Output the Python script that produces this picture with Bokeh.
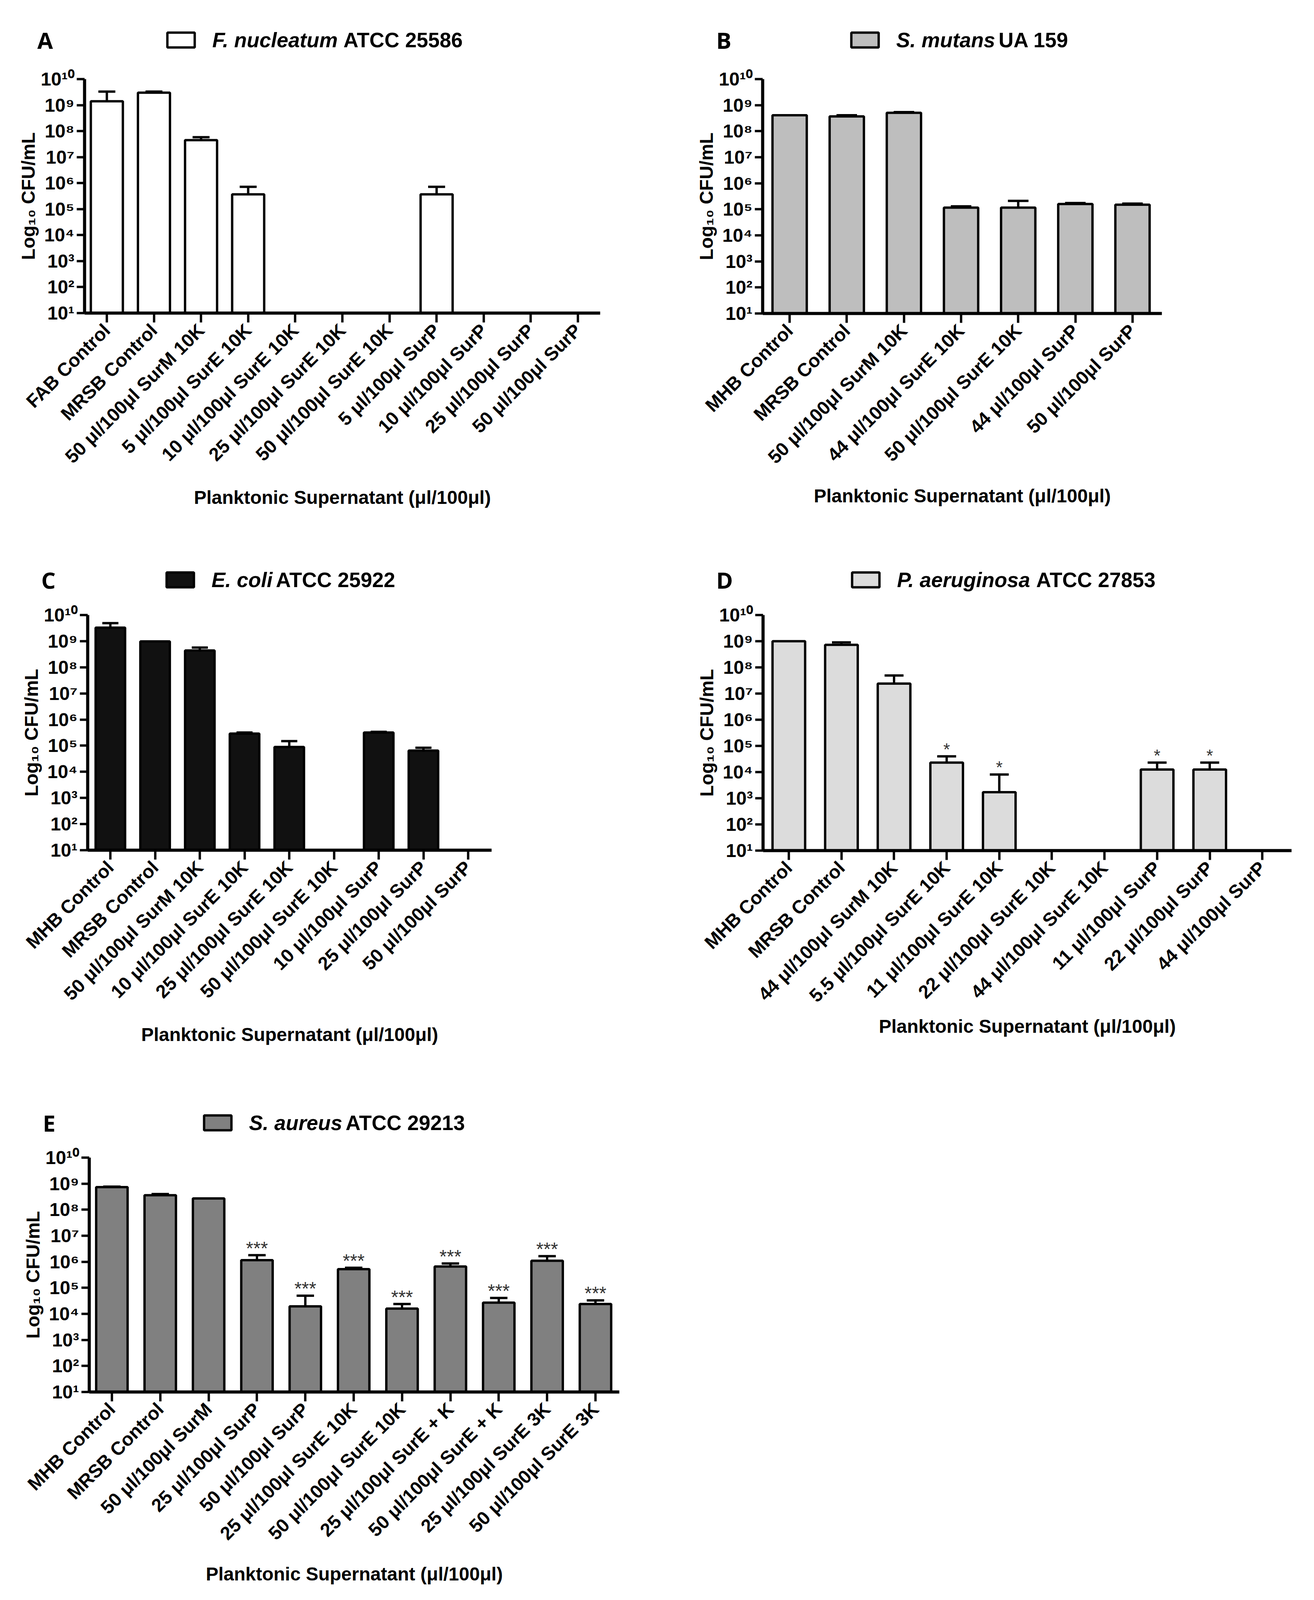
import math
from bokeh.plotting import figure
from bokeh.models import FixedTicker, Range1d
from bokeh.layouts import column, row
from bokeh.embed import file_html
from bokeh.resources import INLINE
from bokeh.core.properties import value

# ---------------- data ----------------
a_labels = ["FAB Control", "MRSB Control", "50 μl/100μl SurM 10K", "5 μl/100μl SurE 10K",
            "10 μl/100μl SurE 10K", "25 μl/100μl SurE 10K", "50 μl/100μl SurE 10K",
            "5 μl/100μl SurP", "10 μl/100μl SurP", "25 μl/100μl SurP", "50 μl/100μl SurP"]
a_mean = [1.4e9, 3.0e9, 4.5e7, 3.7e5, 0, 0, 0, 3.7e5, 0, 0, 0]
a_err = [3.3e9, 3.3e9, 5.8e7, 7.2e5, 0, 0, 0, 7.2e5, 0, 0, 0]
a_stars = [""] * 11

b_labels = ["MHB Control", "MRSB Control", "50 μl/100μl SurM 10K", "44 μl/100μl SurE 10K",
            "50 μl/100μl SurE 10K", "44 μl/100μl SurP", "50 μl/100μl SurP"]
b_mean = [4.1e8, 3.7e8, 5.1e8, 1.16e5, 1.16e5, 1.6e5, 1.5e5]
b_err = [4.2e8, 4.1e8, 5.4e8, 1.3e5, 2.1e5, 1.75e5, 1.65e5]
b_stars = [""] * 7

c_labels = ["MHB Control", "MRSB Control", "50 μl/100μl SurM 10K", "10 μl/100μl SurE 10K",
            "25 μl/100μl SurE 10K", "50 μl/100μl SurE 10K", "10 μl/100μl SurP",
            "25 μl/100μl SurP", "50 μl/100μl SurP"]
c_mean = [3.3e9, 9.8e8, 4.4e8, 2.9e5, 8.9e4, 0, 3.2e5, 6.5e4, 0]
c_err = [4.9e9, 1.0e9, 5.7e8, 3.2e5, 1.5e5, 0, 3.4e5, 8.3e4, 0]
c_stars = [""] * 9

d_labels = ["MHB Control", "MRSB Control", "44 μl/100μl SurM 10K", "5.5 μl/100μl SurE 10K",
            "11 μl/100μl SurE 10K", "22 μl/100μl SurE 10K", "44 μl/100μl SurE 10K",
            "11 μl/100μl SurP", "22 μl/100μl SurP", "44 μl/100μl SurP"]
d_mean = [1.0e9, 7.3e8, 2.4e7, 2.3e4, 1.7e3, 0, 0, 1.25e4, 1.25e4, 0]
d_err = [1.0e9, 9.0e8, 4.9e7, 4.0e4, 8.1e3, 0, 0, 2.3e4, 2.3e4, 0]
d_stars = ["", "", "", "*", "*", "", "", "*", "*", ""]

e_labels = ["MHB Control", "MRSB Control", "50 μl/100μl SurM", "25 μl/100μl SurP",
            "50 μl/100μl SurP", "25 μl/100μl SurE 10K", "50 μl/100μl SurE 10K",
            "25 μl/100μl SurE + K", "50 μl/100μl SurE + K", "25 μl/100μl SurE 3K",
            "50 μl/100μl SurE 3K"]
e_mean = [7.4e8, 3.6e8, 2.7e8, 1.15e6, 1.95e4, 5.2e5, 1.6e4, 6.6e5, 2.7e4, 1.1e6, 2.4e4]
e_err = [7.7e8, 4.0e8, 2.7e8, 1.8e6, 5.0e4, 5.9e5, 2.4e4, 8.6e5, 4.1e4, 1.65e6, 3.3e4]
e_stars = ["", "", "", "***", "***", "***", "***", "***", "***", "***", "***"]

y_exponents = list(range(1, 11))
x_title = "Planktonic Supernatant (μl/100μl)"
y_title = "Log₁₀ CFU/mL"

# ---------------- helpers ----------------
SUP = "⁰¹²³⁴⁵⁶⁷⁸⁹"
def sup(n):
    return "".join(SUP[int(c)] for c in str(n))

AW = {' ': 0.278, '.': 0.278, 'A': 0.722, 'B': 0.722, 'C': 0.722, 'D': 0.722, 'E': 0.667,
      'F': 0.611, 'P': 0.667, 'S': 0.667, 'T': 0.611, 'U': 0.722, 'a': 0.556, 'c': 0.556,
      'e': 0.556, 'g': 0.611, 'i': 0.278, 'l': 0.278, 'm': 0.889, 'n': 0.611, 'o': 0.611,
      'r': 0.389, 's': 0.556, 't': 0.333, 'u': 0.611}
def text_w(s, size):
    return sum(AW.get(ch, 0.556) for ch in s) * size

FONT = "Liberation Sans"
TITLE_PX = 53
ROW_W = 3348


def header(height, items):
    """items: list of (fill, letter, species, strain, letter_x, swatch_x, title_y)"""
    p = figure(width=ROW_W, height=height, x_range=Range1d(0, ROW_W),
               y_range=Range1d(height, 0), output_backend="svg", toolbar_location=None,
               x_axis_location=None, y_axis_location=None, min_border=0)
    p.outline_line_color = None
    p.xgrid.visible = False
    p.ygrid.visible = False
    for fill, letter, species, strain, lx, sx, ty in items:
        p.text(x=[lx], y=[ty], text=[letter], text_font=value("Open Sans"),
               text_font_style="bold", text_font_size="58px", text_baseline="middle",
               text_align="left", text_color="black")
        p.rect(x=[sx + 37], y=[ty], width=70, height=38, fill_color=fill,
               line_color="black", line_width=6)
        tx = sx + 117
        p.text(x=[tx], y=[ty], text=[species], text_font=value(FONT),
               text_font_style="bold italic", text_font_size=f"{TITLE_PX}px",
               text_baseline="middle", text_align="left", text_color="black")
        p.text(x=[tx + text_w(species + " ", TITLE_PX) - 6], y=[ty], text=[strain],
               text_font=value(FONT), text_font_style="bold",
               text_font_size=f"{TITLE_PX}px", text_baseline="middle",
               text_align="left", text_color="black")
    return p


def build(labels, mean, err, stars, fill, g):
    n = len(labels)
    xs = list(range(n))
    p = figure(frame_width=g['fw'], frame_height=g['fh'], y_axis_type='log',
               x_range=Range1d(g['x0'], g['x1']), y_range=Range1d(10, 1e10),
               output_backend='svg', toolbar_location=None,
               min_border_left=g['ml'], min_border_right=g['mr'],
               min_border_top=g['mt'], min_border_bottom=g['mb'])
    p.outline_line_color = None
    p.xgrid.visible = False
    p.ygrid.visible = False

    ok = [i for i in range(n) if mean[i] > 10 and err[i] > mean[i] * 1.03]
    if ok:
        ex = [xs[i] for i in ok]
        em = [mean[i] for i in ok]
        ee = [err[i] for i in ok]
        p.segment(x0=ex, y0=em, x1=ex, y1=ee, line_color="black", line_width=6)
        p.segment(x0=[x - 0.18 for x in ex], y0=ee, x1=[x + 0.18 for x in ex], y1=ee,
                  line_color="black", line_width=6)

    bi = [i for i in range(n) if mean[i] > 10]
    p.vbar(x=[xs[i] for i in bi], top=[mean[i] for i in bi], bottom=10, width=g['bw'],
           fill_color=fill, line_color="black", line_width=6)

    si = [i for i in range(n) if stars[i]]
    if si:
        p.text(x=[xs[i] for i in si], y=[max(err[i], mean[i]) for i in si],
               text=[stars[i] for i in si], text_align="center",
               text_baseline="alphabetic", y_offset=-18, text_font_size=g['sfs'],
               text_font=value(FONT), text_color="#333333")

    xa = p.xaxis[0]
    xa.ticker = FixedTicker(ticks=xs, minor_ticks=[])
    xa.major_label_overrides = {i: lab for i, lab in enumerate(labels)}
    xa.major_label_orientation = math.pi / 4
    xa.major_label_text_font = FONT
    xa.major_label_text_font_style = "bold"
    xa.major_label_text_font_size = "48px"
    xa.major_label_text_color = "black"
    xa.major_label_standoff = 12
    xa.axis_line_width = 8
    xa.axis_line_color = "black"
    xa.major_tick_line_width = 6
    xa.major_tick_out = 24
    xa.major_tick_in = 0
    xa.minor_tick_out = 0
    xa.axis_label = x_title
    xa.axis_label_text_font = FONT
    xa.axis_label_text_font_style = "bold"
    xa.axis_label_text_font_size = "48px"
    xa.axis_label_text_color = "black"
    xa.axis_label_standoff = g['xls']

    ya = p.yaxis[0]
    ya.ticker = FixedTicker(ticks=[10 ** k for k in y_exponents], minor_ticks=[])
    ya.major_label_overrides = {10 ** k: "10" + sup(k) for k in y_exponents}
    ya.major_label_text_font = FONT
    ya.major_label_text_font_style = "bold"
    ya.major_label_text_font_size = "48px"
    ya.major_label_text_color = "black"
    ya.major_label_standoff = 6
    ya.axis_line_width = 8
    ya.axis_line_color = "black"
    ya.major_tick_line_width = 6
    ya.major_tick_out = 20
    ya.major_tick_in = 0
    ya.minor_tick_out = 0
    ya.minor_tick_in = 0
    ya.axis_label = y_title
    ya.axis_label_text_font = FONT
    ya.axis_label_text_font_style = "bold"
    ya.axis_label_text_font_size = "48px"
    ya.axis_label_text_color = "black"
    ya.axis_label_standoff = 2
    return p


gA = dict(ml=216, fw=1320, mr=136, mt=36, fh=599, mb=591, x0=-0.473, x1=10.472,
          bw=0.68, xls=29, sfs="46px")
gB = dict(ml=280, fw=1022, mr=374, mt=30, fh=600, mb=596, x0=-0.472, x1=6.514,
          bw=0.60, xls=24, sfs="46px")
gC = dict(ml=224, fw=1034, mr=414, mt=30, fh=602, mb=607, x0=-0.507, x1=8.524,
          bw=0.66, xls=29, sfs="46px")
gD = dict(ml=281, fw=1353, mr=42, mt=31, fh=603, mb=605, x0=-0.49, x1=9.555,
          bw=0.62, xls=4, sfs="44px")
gE = dict(ml=228, fw=1357, mr=87, mt=30, fh=600, mb=520, x0=-0.468, x1=10.493,
          bw=0.65, xls=29, sfs="48px")

mA = build(a_labels, a_mean, a_err, a_stars, "white", gA)
mB = build(b_labels, b_mean, b_err, b_stars, "#BEBEBE", gB)
mC = build(c_labels, c_mean, c_err, c_stars, "#111111", gC)
mD = build(d_labels, d_mean, d_err, d_stars, "#DCDCDC", gD)
mE = build(e_labels, e_mean, e_err, e_stars, "#808080", gE)

h1 = header(166, [("white", "A", "F. nucleatum", "ATCC 25586", 95, 426, 102),
                  ("#BEBEBE", "B", "S. mutans", "UA 159", 1833, 2177, 102)])
h2 = header(151, [("#111111", "C", "E. coli", "ATCC 25922", 105, 424, 92),
                  ("#DCDCDC", "D", "P. aeruginosa", "ATCC 27853", 1833, 2179, 92)])
h3 = header(151, [("#808080", "E", "S. aureus", "ATCC 29213", 109, 520, 92)])

layout = column(h1, row(mA, mB), h2, row(mC, mD), h3, row(mE))
open("out.html", "w").write(file_html(layout, INLINE))
